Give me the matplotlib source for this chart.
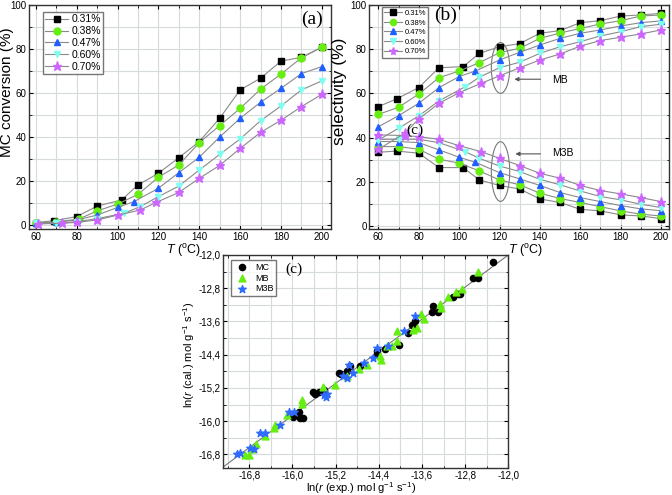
import matplotlib
matplotlib.use("Agg")
import matplotlib.pyplot as plt
from matplotlib.patches import Ellipse
from matplotlib.ticker import MultipleLocator, FuncFormatter

plt.rcParams['font.family'] = ['Liberation Sans', 'DejaVu Sans']
plt.rcParams['mathtext.fontset'] = 'custom'
plt.rcParams['mathtext.rm'] = 'Liberation Sans'
plt.rcParams['mathtext.it'] = 'Liberation Sans:italic'

# ---------------- data ----------------
loadings = ["0.31%", "0.38%", "0.47%", "0.60%", "0.70%"]
colors = ["#000000", "#66EE11", "#1F5FFF", "#7FFFEF", "#CC66FF"]
markers = ["s", "o", "^", "v", "*"]

# panel (a): MC conversion
T_a = [
    [60, 69, 80, 90, 102, 110, 120, 130, 140, 150, 160, 170, 180, 190, 200],
    [60, 70, 81, 90, 100, 110, 120, 130, 140, 150, 160, 170, 180, 190, 200],
    [60, 70, 80, 90, 100, 108, 120, 130, 140, 150, 160, 170, 180, 190, 200],
    [60, 70, 80, 90, 103, 111, 120, 130, 140, 150, 160, 170, 180, 190, 200],
    [61, 73, 80, 90, 100, 111, 119, 130, 140, 150, 160, 170, 180, 190, 200],
]
conv_031 = [1.1, 2.0, 3.8, 8.6, 11.4, 18.2, 23.5, 30.6, 37.9, 48.5, 61.4, 66.7, 74.5, 76.2, 80.8]
conv_038 = [0.8, 1.5, 2.7, 6.4, 9.5, 13.9, 21.7, 27.3, 37.4, 45.2, 53.0, 61.7, 68.6, 76.0, 80.8]
conv_047 = [1.0, 1.2, 2.3, 4.5, 8.0, 10.6, 16.7, 23.8, 30.8, 40.0, 48.5, 55.8, 62.1, 68.8, 72.0]
conv_060 = [0.8, 0.8, 1.5, 2.9, 5.3, 8.3, 12.9, 17.7, 25.0, 32.1, 39.1, 47.4, 54.1, 61.4, 65.5]
conv_070 = [0.5, 0.8, 1.2, 2.3, 4.5, 6.8, 10.3, 14.8, 21.2, 27.1, 34.8, 42.1, 47.6, 53.8, 59.4]
conv = [conv_031, conv_038, conv_047, conv_060, conv_070]

# panel (b): selectivity
T_b = [
    [60, 69, 80, 90, 102, 110, 120, 130, 140, 150, 160, 170, 180, 190, 200],
    [60, 70, 80, 90, 100, 110, 120, 130, 140, 150, 160, 170, 180, 190, 200],
    [60, 70, 80, 90, 100, 108, 120, 130, 140, 150, 160, 170, 180, 190, 200],
    [60, 70, 80, 90, 103, 110, 120, 130, 140, 150, 160, 170, 180, 190, 200],
    [60, 73, 80, 90, 100, 111, 120, 130, 140, 150, 160, 170, 180, 190, 200],
]
mb_031 = [54.0, 57.5, 62.6, 71.6, 72.1, 78.1, 81.1, 82.5, 87.2, 88.4, 92.0, 92.9, 95.0, 95.5, 96.2]
mb_038 = [50.5, 53.7, 59.7, 67.1, 70.1, 73.9, 78.4, 80.4, 84.9, 87.3, 89.4, 91.4, 92.9, 95.0, 95.5]
mb_047 = [44.9, 49.9, 55.5, 62.6, 67.6, 70.1, 75.1, 78.6, 81.9, 84.9, 87.2, 88.7, 90.5, 92.0, 92.8]
mb_060 = [38.9, 44.2, 49.8, 56.6, 63.0, 67.3, 71.6, 74.1, 78.1, 81.1, 83.4, 86.0, 87.9, 90.2, 91.3]
mb_070 = [34.7, 41.9, 48.4, 55.5, 60.3, 64.6, 67.9, 71.6, 75.1, 77.8, 81.4, 83.9, 85.4, 86.9, 88.7]
mb = [mb_031, mb_038, mb_047, mb_060, mb_070]

m3b_031 = [33.3, 33.9, 32.9, 26.4, 26.4, 20.8, 18.3, 16.7, 12.2, 10.6, 7.5, 6.8, 5.0, 4.5, 3.3]
m3b_038 = [35.9, 35.9, 34.7, 30.2, 28.4, 24.9, 20.8, 18.6, 14.8, 12.4, 10.6, 8.7, 6.8, 5.3, 4.5]
m3b_047 = [38.2, 38.2, 37.7, 34.4, 31.1, 28.8, 24.1, 21.3, 18.3, 15.1, 12.8, 11.0, 9.2, 7.7, 6.9]
m3b_060 = [39.2, 39.2, 39.2, 37.7, 33.6, 30.6, 27.1, 24.6, 21.1, 18.6, 15.8, 13.3, 11.8, 9.8, 8.3]
m3b_070 = [41.2, 40.9, 40.4, 39.2, 36.3, 33.6, 30.6, 27.3, 23.8, 21.6, 18.3, 16.0, 14.5, 12.8, 11.0]
m3b = [m3b_031, m3b_038, m3b_047, m3b_060, m3b_070]

# panel (c): parity plot ln(r)
mc_exp = [-12.28, -12.66, -12.56, -13.02, -12.93, -12.90, -13.39, -13.42, -13.31, -13.73,
          -13.79, -13.75, -13.86, -14.02, -14.28, -14.44, -14.44, -14.75, -14.93, -14.99,
          -15.13, -15.10, -15.42, -15.50, -15.61, -15.58, -15.87, -15.98, -15.86, -15.81]
mc_cal = [-12.17, -12.56, -12.56, -13.01, -12.95, -12.93, -13.22, -13.38, -13.38, -13.59,
          -13.69, -13.71, -13.88, -14.17, -14.26, -14.32, -14.38, -14.68, -14.67, -14.79,
          -14.83, -14.86, -15.24, -15.29, -15.31, -15.35, -15.79, -15.91, -15.93, -15.93]
mb_exp = [-12.56, -12.86, -12.97, -13.11, -13.27, -13.24, -13.62, -13.57, -13.70, -13.76,
          -14.07, -14.07, -14.16, -14.25, -14.38, -14.36, -14.62, -14.76, -14.99, -15.21,
          -15.44, -15.83, -15.83, -16.10, -16.32, -16.35, -16.50, -16.67, -16.75, -16.81, -16.87]
mb_cal = [-12.40, -12.83, -12.89, -13.01, -13.17, -13.27, -13.41, -13.53, -13.76, -13.80,
          -13.84, -14.08, -14.18, -14.20, -14.44, -14.52, -14.64, -14.75, -14.91, -15.12,
          -15.18, -15.49, -15.58, -15.86, -16.09, -16.17, -16.36, -16.55, -16.68, -16.81, -16.81]
m3b_exp = [-13.73, -13.94, -14.22, -14.43, -14.51, -14.68, -14.87, -14.95, -14.99, -15.07,
           -15.36, -15.42, -15.37, -15.97, -16.07, -16.23, -16.50, -16.60, -16.72, -16.78,
           -16.97, -17.02]
m3b_cal = [-13.47, -13.84, -14.18, -14.24, -14.48, -14.60, -14.83, -14.64, -14.96, -14.92,
           -15.34, -15.37, -15.42, -15.79, -15.79, -16.09, -16.28, -16.29, -16.68, -16.65,
           -16.77, -16.79]
fit_x = [-17.3, -12.0]
fit_y = [-17.12, -12.0]

# ---------------- figure ----------------
fig = plt.figure(figsize=(6.72, 4.95), dpi=100)
LINE_C = "#8a8a8a"
GRID_C = "#d5dadc"


def style_axes(ax, xmaj, xmin, ymaj, ymin, fs=7):
    ax.xaxis.set_major_locator(MultipleLocator(xmaj))
    ax.xaxis.set_minor_locator(MultipleLocator(xmin))
    ax.yaxis.set_major_locator(MultipleLocator(ymaj))
    ax.yaxis.set_minor_locator(MultipleLocator(ymin))
    ax.grid(True, which='both', color=GRID_C, lw=0.8)
    ax.set_axisbelow(True)
    ax.tick_params(which='both', direction='in', top=True, right=True, labelsize=fs, pad=2)
    ax.tick_params(which='major', length=3, width=0.8)
    ax.tick_params(which='minor', length=1.8, width=0.6)
    for s in ax.spines.values():
        s.set_color("#333333")
        s.set_linewidth(1.0)


# ---- panel (a)
axa = fig.add_axes([0.0432, 0.5374, 0.4494, 0.4525])
for i in range(5):
    ms = 6.5 if markers[i] == '*' else 5.0
    axa.plot(T_a[i], conv[i], color=LINE_C, lw=0.8, marker=markers[i], ms=ms,
             mfc=colors[i], mec=colors[i], label=loadings[i])
axa.set_xlim(56.7, 204.5)
axa.set_ylim(-1.8, 100)
style_axes(axa, 20, 10, 20, 10)
axa.set_xlabel(r"$\it{T}$ ($^{\rm o}$C)", fontsize=9)
axa.xaxis.set_label_coords(0.51, -0.058)
axa.set_ylabel("MC conversion (%)", fontsize=11)
axa.yaxis.set_label_coords(-0.051, 0.61)
axa.text(195.2, 93.5, "(a)", family="Liberation Serif", fontsize=14, ha="center", va="center")
axa.legend(loc="upper left", bbox_to_anchor=(0.045, 0.97), fontsize=7.5, frameon=True,
           fancybox=False, edgecolor="#555555", handlelength=2.2, handletextpad=0.3,
           borderpad=0.25, labelspacing=0.18, borderaxespad=0)

# ---- panel (b)
axb = fig.add_axes([0.5496, 0.5374, 0.446, 0.4525])
for i in range(5):
    ms = 6.5 if markers[i] == '*' else 5.0
    axb.plot(T_b[i], mb[i], color=LINE_C, lw=0.8, marker=markers[i], ms=ms,
             mfc=colors[i], mec=colors[i], label=loadings[i])
    axb.plot(T_b[i], m3b[i], color=LINE_C, lw=0.8, marker=markers[i], ms=ms,
             mfc=colors[i], mec=colors[i])
axb.set_xlim(55.5, 204)
axb.set_ylim(-1.4, 100)
style_axes(axb, 20, 10, 20, 10)
axb.set_xlabel(r"$\it{T}$ ($^{\rm o}$C)", fontsize=9)
axb.xaxis.set_label_coords(0.52, -0.058)
axb.set_ylabel("selectivity (%)", fontsize=12.5)
axb.yaxis.set_label_coords(-0.075, 0.616)
axb.text(93.5, 95.5, "(b)", family="Liberation Serif", fontsize=14, ha="center", va="center")
axb.text(78.2, 43.1, "(c)", family="Liberation Serif", fontsize=11, ha="center", va="center")
axb.add_patch(Ellipse((120.5, 71.5), 9.1, 23, fill=False, ec="#777777", lw=0.8))
axb.add_patch(Ellipse((120.5, 24.6), 9.1, 27, fill=False, ec="#777777", lw=0.8))
axb.annotate("", xy=(126, 66.4), xytext=(141.7, 66.4),
             arrowprops=dict(arrowstyle="-|>", color="#555555", lw=0.8, mutation_scale=6))
axb.annotate("", xy=(126.5, 32.6), xytext=(141.7, 32.6),
             arrowprops=dict(arrowstyle="-|>", color="#555555", lw=0.8, mutation_scale=6))
axb.text(146, 66, "MB", fontsize=7.5, ha="left", va="center")
axb.text(146, 32.9, "M3B", fontsize=7.5, ha="left", va="center")
axb.legend(loc="upper left", bbox_to_anchor=(0.041, 0.99), fontsize=5.5, frameon=True,
           fancybox=False, edgecolor="#555555", handlelength=2.4, handletextpad=0.3,
           borderpad=0.3, labelspacing=0.3, borderaxespad=0, markerscale=0.9)

# ---- panel (c)
axc = fig.add_axes([0.3323, 0.0552, 0.4241, 0.4297])
axc.plot(fit_x, fit_y, color="#777777", lw=0.8, zorder=2)
axc.scatter(mc_exp, mc_cal, s=20, marker="o", color="#000000", label="MC", zorder=3)
axc.scatter(mb_exp, mb_cal, s=24, marker="^", color="#66EE11", label="MB", zorder=3)
axc.scatter(m3b_exp, m3b_cal, s=32, marker="*", color="#2F6BFF", label="M3B", zorder=3)
axc.set_xlim(-17.28, -12.0)
axc.set_ylim(-17.12, -12.0)
style_axes(axc, 0.8, 0.4, 0.8, 0.4)
comma = FuncFormatter(lambda v, p: ("%.1f" % v).replace(".", ","))
axc.xaxis.set_major_formatter(comma)
axc.yaxis.set_major_formatter(comma)
axc.set_xlabel(r"ln($\it{r}$ (exp.) mol g$^{-1}$ s$^{-1}$)", fontsize=8)
axc.xaxis.set_label_coords(0.483, -0.058)
axc.set_ylabel(r"ln($\it{r}$ (cal.) mol g$^{-1}$ s$^{-1}$)", fontsize=8)
axc.yaxis.set_label_coords(-0.092, 0.53)
axc.text(-15.97, -12.35, "(c)", family="Liberation Serif", fontsize=11, ha="center", va="center")
axc.legend(loc="upper left", bbox_to_anchor=(0.026, 0.976), fontsize=6.5, frameon=True,
           fancybox=False, edgecolor="#555555", handletextpad=0.4, borderpad=0.3,
           labelspacing=0.2, borderaxespad=0, scatterpoints=1)

fig.savefig("out.png", dpi=100)
